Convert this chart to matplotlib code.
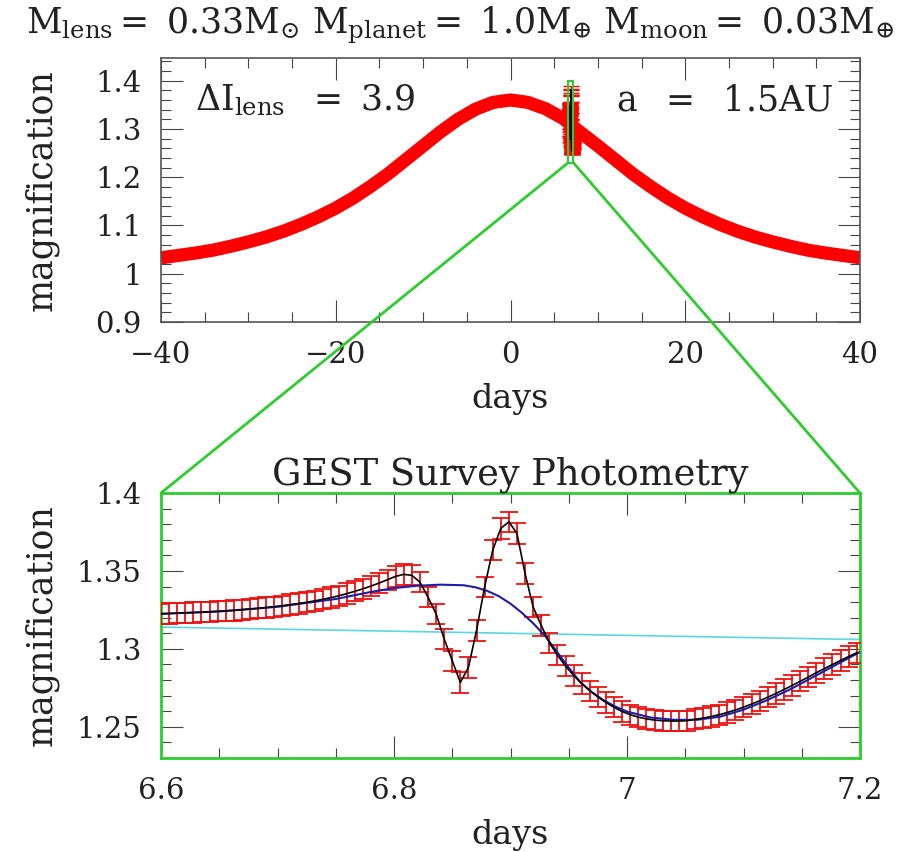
import matplotlib
matplotlib.use('Agg')
import matplotlib.pyplot as plt
import numpy as np
from matplotlib.patches import Rectangle, ConnectionPatch
from matplotlib.ticker import MultipleLocator

plt.rcParams['font.family'] = 'serif'
plt.rcParams['font.serif'] = ['DejaVu Serif']
plt.rcParams['mathtext.fontset'] = 'dejavuserif'

# full light curve (top panel), read every 2 days
days_full = list(range(-40, 41, 2))
mag_full = [1.033, 1.038, 1.043, 1.049, 1.057, 1.066, 1.076, 1.088, 1.102, 1.118,
            1.136, 1.157, 1.181, 1.207, 1.236, 1.265, 1.294, 1.320, 1.341, 1.355,
            1.360, 1.355, 1.342, 1.322, 1.293, 1.265, 1.236, 1.207, 1.181, 1.157,
            1.136, 1.118, 1.102, 1.088, 1.076, 1.066, 1.057, 1.049, 1.043, 1.038, 1.033]

# GEST photometry, 10 minute cadence starting at day 6.6
t_start = 6.6
cadence = 1.0 / 144
mag_obs = [1.3225, 1.3227, 1.3229, 1.3231, 1.3233, 1.3235, 1.3238, 1.3241, 1.3244, 1.3247,
           1.3251, 1.3255, 1.3260, 1.3265, 1.3271, 1.3277, 1.3284, 1.3291, 1.3299, 1.3308,
           1.3318, 1.3329, 1.3341, 1.3355, 1.3370, 1.3386, 1.3404, 1.3423, 1.3444, 1.3465,
           1.3478, 1.3472, 1.3429, 1.3332, 1.3225, 1.3064, 1.2924, 1.2785, 1.2881, 1.3118,
           1.3397, 1.3633, 1.3773, 1.3815, 1.3740, 1.3483, 1.3268, 1.3150, 1.3040, 1.2960,
           1.2890, 1.2830, 1.2778, 1.2732, 1.2692, 1.2656, 1.2625, 1.2598, 1.2578, 1.2562,
           1.2551, 1.2543, 1.2539, 1.2537, 1.2537, 1.2539, 1.2548, 1.2556, 1.2566, 1.2578,
           1.2592, 1.2608, 1.2626, 1.2646, 1.2667, 1.2690, 1.2714, 1.2739, 1.2765, 1.2792,
           1.2819, 1.2847, 1.2874, 1.2900, 1.2926, 1.2951, 1.2975]
mag_err = 0.0065
t_obs = t_start + cadence * np.arange(len(mag_obs))

# planet-only model (blue)
days_planet = [6.60, 6.65, 6.70, 6.75, 6.78, 6.80, 6.82, 6.84, 6.86, 6.87, 6.88, 6.89,
               6.90, 6.91, 6.92, 6.93, 6.94, 6.95, 6.96, 6.97, 6.98, 6.99, 7.00, 7.02,
               7.04, 7.06, 7.08, 7.10, 7.12, 7.14, 7.16, 7.18, 7.20]
mag_planet = [1.3225, 1.3240, 1.3270, 1.3320, 1.3365, 1.3390, 1.3405, 1.3412, 1.3408, 1.3395,
              1.3372, 1.3338, 1.3290, 1.3230, 1.3160, 1.3080, 1.2980, 1.2880, 1.2785, 1.2722,
              1.2670, 1.2630, 1.2598, 1.2560, 1.2545, 1.2545, 1.2565, 1.2610, 1.2670, 1.2740,
              1.2820, 1.2900, 1.2980]

# single lens (cyan)
days_single = [6.6, 6.9, 7.2]
mag_single = [1.3140, 1.3100, 1.3060]

green = '#2ecc2e'
txt = '#222222'

fig = plt.figure(figsize=(9.11, 8.52), dpi=100)
ax1 = fig.add_axes([161 / 911, 1 - 322 / 852, 699 / 911, 264 / 852])
ax2 = fig.add_axes([161 / 911, 1 - 758 / 852, 699 / 911, 265 / 852])

# top panel
ax1.plot(days_full, mag_full, color='red', lw=9.5, solid_capstyle='butt', zorder=2)
ax1.errorbar(t_obs, mag_obs, yerr=mag_err, fmt='none', ecolor='red', elinewidth=1,
             capsize=6, capthick=1, zorder=3)
ax1.plot(t_obs, mag_obs, color='black', lw=1, zorder=4)
ax1.add_patch(Rectangle((6.6, 1.23), 0.6, 0.17, fill=False, edgecolor=green, lw=1.5, zorder=5))
ax1.set_xlim(-40, 40)
ax1.set_ylim(0.9, 1.447)
ax1.set_xticks([-40, -20, 0, 20, 40], labels=['\u221240', '\u221220', '0', '20', '40'])
ax1.set_yticks([0.9, 1.0, 1.1, 1.2, 1.3, 1.4], labels=['0.9', '1', '1.1', '1.2', '1.3', '1.4'])
ax1.xaxis.set_minor_locator(MultipleLocator(5))
ax1.yaxis.set_minor_locator(MultipleLocator(0.02))
ax1.set_xlabel('days', fontsize=24, color=txt, labelpad=10)
ax1.set_ylabel('magnification', fontsize=25, color=txt)
ax1.yaxis.set_label_coords(-0.147, 0.5)
ax1.text(0.049, 0.80, r'$\Delta\mathrm{I_{lens}}\ \ =\ 3.9$', transform=ax1.transAxes,
         fontsize=25, color=txt, va='baseline')
ax1.text(0.962, 0.80, r'$\mathrm{a\ \ =\ \ 1.5AU}$', transform=ax1.transAxes,
         fontsize=25, color=txt, va='baseline', ha='right')
for s in ax1.spines.values():
    s.set_color('#555555')
    s.set_linewidth(1.2)

# bottom panel
ax2.plot(days_single, mag_single, color='#5cd6e0', lw=1.2, zorder=2)
ax2.errorbar(t_obs, mag_obs, yerr=mag_err, fmt='none', ecolor='#ee1111', elinewidth=1.3,
             capsize=6.5, capthick=1.3, zorder=3)
ax2.plot(days_planet, mag_planet, color='#1c1ca8', lw=1.5, zorder=4)
ax2.plot(t_obs, mag_obs, color='black', lw=1.2, zorder=5)
ax2.set_xlim(6.6, 7.2)
ax2.set_ylim(1.23, 1.4)
ax2.set_xticks([6.6, 6.8, 7.0, 7.2], labels=['6.6', '6.8', '7', '7.2'])
ax2.set_yticks([1.25, 1.3, 1.35, 1.4], labels=['1.25', '1.3', '1.35', '1.4'])
ax2.xaxis.set_minor_locator(MultipleLocator(0.05))
ax2.yaxis.set_minor_locator(MultipleLocator(0.01))
ax2.set_xlabel('days', fontsize=24, color=txt, labelpad=10)
ax2.set_ylabel('magnification', fontsize=25, color=txt)
ax2.yaxis.set_label_coords(-0.147, 0.5)
ax2.set_title('GEST Survey Photometry', fontsize=26.5, color=txt, pad=6)
for s in ax2.spines.values():
    s.set_color(green)
    s.set_linewidth(2)

for ax in (ax1, ax2):
    ax.tick_params(which='both', direction='in', top=True, right=True,
                   labelsize=21, labelcolor=txt, color='#444444')
    ax.tick_params(which='major', length=16, width=0.8)
    ax.tick_params(which='minor', length=7, width=0.8)
    ax.tick_params(axis='x', pad=14)
    ax.tick_params(axis='y', pad=14)

# zoom connector lines
for xc in (6.6, 7.2):
    con = ConnectionPatch(xyA=(xc, 1.23), coordsA=ax1.transData,
                          xyB=(xc, 1.4), coordsB=ax2.transData,
                          color=green, lw=2, zorder=10)
    fig.add_artist(con)

fig.text(0.505, 1 - 33 / 852,
         r'$\mathrm{M_{lens}{=}\ 0.33M_{\odot}\ M_{planet}{=}\ 1.0M_{\oplus}\ M_{moon}{=}\ 0.03M_{\oplus}}$',
         fontsize=25, color=txt, ha='center', va='baseline')

fig.savefig('out.png', dpi=100)
